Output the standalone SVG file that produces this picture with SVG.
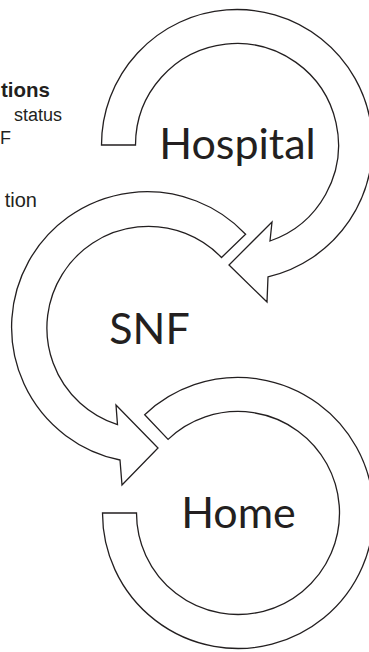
<svg xmlns="http://www.w3.org/2000/svg" width="369" height="652" viewBox="0 0 369 652">
<style>
.band{fill:#ffffff;stroke:#231f20;stroke-width:1.3;stroke-linejoin:miter}
.lbl{font-family:Lato,"Open Sans","Liberation Sans",sans-serif;font-size:43px;fill:#231f20;text-anchor:middle}
.side{font-family:"Liberation Sans",Arial,sans-serif;font-size:18px;fill:#231f20;text-anchor:end}
.sideb{font-family:"Liberation Sans",Arial,sans-serif;font-size:20.5px;font-weight:bold;fill:#231f20;text-anchor:end}
</style>
<rect x="0" y="0" width="369" height="652" fill="#ffffff"/>
<g id="notes">
<text class="sideb" x="50" y="97">tions</text>
<text class="side" x="62" y="121">status</text>
<text class="side" x="0" y="144" style="text-anchor:start">F</text>
<text class="side" x="37" y="207" style="font-size:20px">tion</text>
</g>
<g id="connectors">
<path id="arrow-hospital" class="band" d="M101.5,145 A135.5,135.5 0 1 1 268,276.9 L267,302 L229,265 L272,222 L270,241 A101.5,101.5 0 1 0 135.5,145 Z"/>
<path id="arrow-snf" class="band" d="M245.6,234.2 A135.5,135.5 0 1 0 120,460 L122,485 L158,448 L116,405 L117.5,424.6 A101.5,101.5 0 1 1 221.5,257.5 Z"/>
<path id="arrow-home" class="band" d="M102.5,513 A135.5,135.5 0 1 0 144.7,414.7 L168.1,439.4 A101.5,101.5 0 1 1 136.5,513 Z"/>
</g>
<g id="node-hospital"><text class="lbl" x="237.5" y="159">Hospital</text></g>
<g id="node-snf"><text class="lbl" x="149.5" y="344">SNF</text></g>
<g id="node-home"><text class="lbl" x="238.5" y="528">Home</text></g>
</svg>
